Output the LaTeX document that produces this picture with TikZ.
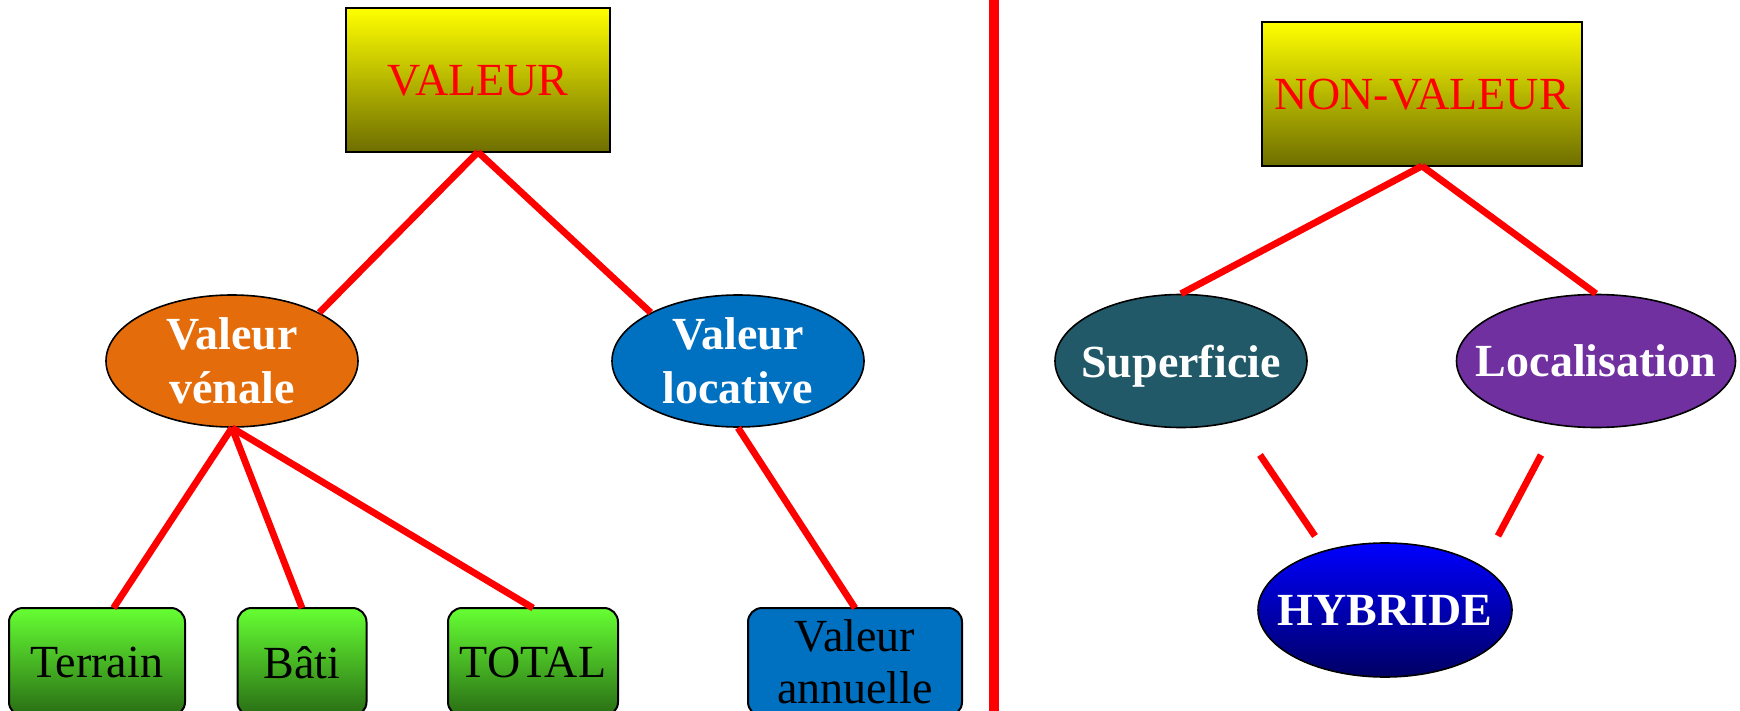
\documentclass[tikz,border=0pt]{standalone}
\usepackage{fontspec}
\setmainfont{Liberation Serif}
\usetikzlibrary{shapes.geometric}
\definecolor{linkred}{RGB}{255,0,0}
\definecolor{headtop}{RGB}{255,255,0}
\definecolor{headbot}{RGB}{110,110,0}
\definecolor{greentop}{RGB}{102,255,51}
\definecolor{greenbot}{RGB}{40,108,20}
\definecolor{venalecol}{RGB}{228,108,10}
\definecolor{locativecol}{RGB}{0,112,192}
\definecolor{surfcol}{RGB}{33,89,104}
\definecolor{localcol}{RGB}{112,48,160}
\definecolor{hybtop}{RGB}{0,0,255}
\definecolor{hybbot}{RGB}{0,0,100}
\newcommand{\ovalnode}[4]{\node [oval, #3] (#1) at (#2) {};
  \node [ovaltext] (#1-t) at (#1) {#4}}

\begin{document}
\begin{tikzpicture}[x=0.5pt, y=-0.5pt,
  box/.style={draw, line width=1pt, inner sep=0pt, outer sep=0pt,
    font=\fontsize{23}{26}\selectfont, align=center, text depth=0pt},
  headbox/.style={box, top color=headtop, bottom color=headbot, text=red},
  greenbox/.style={box, rounded corners=7pt, top color=greentop, bottom color=greenbot},
  oval/.style={ellipse, draw, line width=0.8pt, inner sep=0pt},
  ovaltext/.style={inner sep=0pt, text=white, align=center, text depth=0pt,
    font=\bfseries\fontsize{23}{27}\selectfont},
  link/.style={draw=linkred, line width=3.4pt}]
\clip (0,0) rectangle (1740,711);

\node [headbox, minimum width=132pt, minimum height=72pt] (valeur) at (478,80) {VALEUR};
\node [headbox, minimum width=160pt, minimum height=72pt] (nonvaleur) at (1422,94) {NON-VALEUR};

\ovalnode{venale}{232,361}{fill=venalecol, minimum width=126pt, minimum height=66pt}{Valeur\\vénale};
\ovalnode{locative}{738,361}{fill=locativecol, minimum width=126pt, minimum height=66pt}{Valeur\\locative};
\ovalnode{superficie}{1181,361}{fill=surfcol, minimum width=126pt, minimum height=66.5pt}{Superficie};
\ovalnode{localisation}{1596,361}{fill=localcol, minimum width=139.5pt, minimum height=66.5pt}{Localisation};
\ovalnode{hybride}{1385,610}{top color=hybtop, bottom color=hybbot, minimum width=127pt, minimum height=67pt}{HYBRIDE};

\node [greenbox, minimum width=88pt, minimum height=54pt] (terrain) at (97,662) {Terrain};
\node [greenbox, minimum width=64.5pt, minimum height=54pt] (bati) at (302,662) {Bâti};
\node [greenbox, minimum width=85pt, minimum height=54pt] (total) at (533,662) {TOTAL};
\node [box, rounded corners=7pt, fill=locativecol, minimum width=107pt, minimum height=54pt] (annuelle) at (855,662) {Valeur\\annuelle};

% separator and loose links to HYBRIDE
\coordinate (septop) at (994,-10);
\coordinate (sepbot) at (994,720);
\coordinate (sup1) at (1260,455);
\coordinate (sup2) at (1315,536);
\coordinate (loc1) at (1541,455);
\coordinate (loc2) at (1498,536);

\draw[link] (valeur.south) -- (venale.29);
\draw[link] (valeur.south) -- (locative.151);
\draw[link] (venale.south) -- (terrain.73);
\draw[link] (venale.south) -- (bati.north);
\draw[link] (venale.south) -- (total.north);
\draw[link] (locative.south) -- (annuelle.north);
\draw[link] (nonvaleur.south) -- (superficie.north);
\draw[link] (nonvaleur.south) -- (localisation.north);
\draw[link] (sup1) -- (sup2);
\draw[link] (loc1) -- (loc2);
\draw[draw=linkred, line width=5pt] (septop) -- (sepbot);

\end{tikzpicture}
\end{document}
